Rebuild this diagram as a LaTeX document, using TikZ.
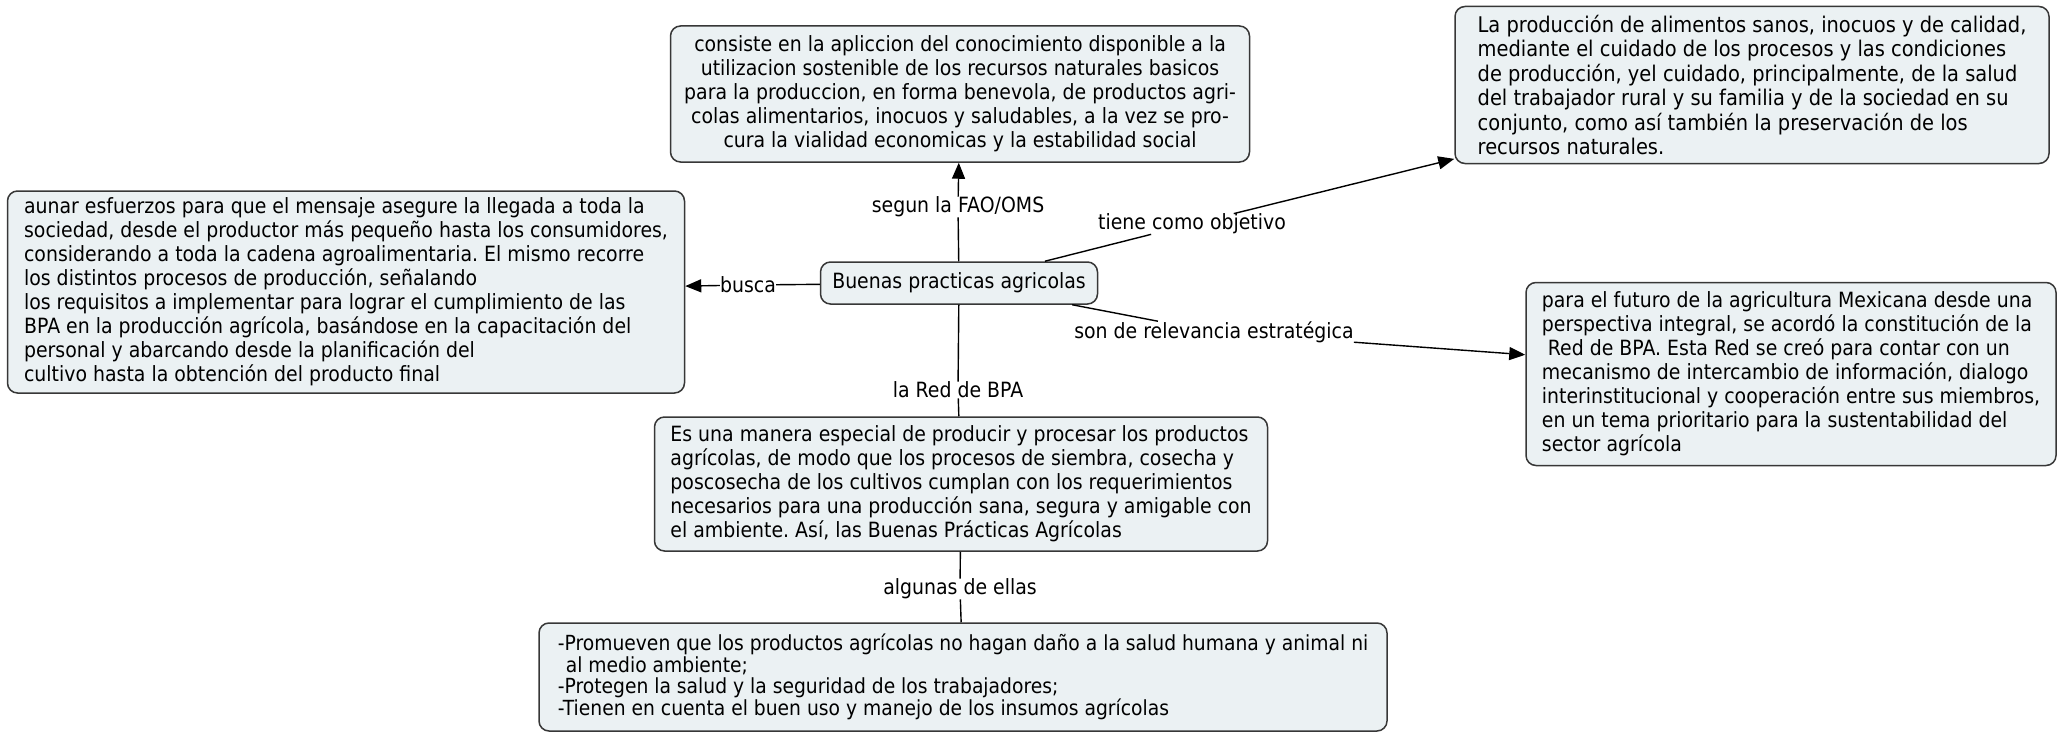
\documentclass[tikz,border=0pt]{standalone}
\usepackage{fontspec}
\setmainfont{DejaVu Sans}[FakeStretch=0.9]
\usepackage{tikz}
\usetikzlibrary{arrows.meta}
\definecolor{boxfill}{RGB}{235,241,243}
\definecolor{boxline}{RGB}{55,55,55}
\frenchspacing

\begin{document}
\begin{tikzpicture}[x=1pt, y=-1pt,
  font=\fontsize{21}{24}\selectfont,
  >={Triangle[length=16pt,width=13pt]},   % Pfeilspitzen
  konzept/.style={draw=boxline, line width=1.5pt, fill=boxfill,
    rounded corners=10pt, inner sep=0pt},
  marke/.style={inner sep=0pt},
  verb/.style={line width=1.4pt, color=black}]

\useasboundingbox (0,0) rectangle (2066,733);

% Hauptkonzept
\node[konzept, minimum width=277pt, minimum height=42pt] (bpa) at (959,283) {Buenas practicas agricolas};

% Konzepte
\node[konzept, align=center, minimum width=579pt, minimum height=136pt] (fao) at (960,94)
  {consiste en la apliccion del conocimiento disponible a la\\
   utilizacion sostenible de los recursos naturales basicos\\
   para la produccion, en forma benevola, de productos agri-\\
   colas alimentarios, inocuos y saludables, a la vez se pro-\\
   cura la vialidad economicas y la estabilidad social};

\node[konzept, align=left, minimum width=594pt, minimum height=157pt,
  font=\fontsize{21.6}{24.5}\selectfont] (objetivo) at (1752,85)
  {La producción de alimentos sanos, inocuos y de calidad,\\
   mediante el cuidado de los procesos y las condiciones\\
   de producción, yel cuidado, principalmente, de la salud\\
   del trabajador rural y su familia y de la sociedad en su\\
   conjunto, como así también la preservación de los\\
   recursos naturales.};

\node[konzept, align=left, minimum width=677pt, minimum height=202pt] (busca) at (346,292)
  {aunar esfuerzos para que el mensaje asegure la llegada a toda la\\
   sociedad, desde el productor más pequeño hasta los consumidores,\\
   considerando a toda la cadena agroalimentaria. El mismo recorre\\
   los distintos procesos de producción, señalando\\
   los requisitos a implementar para lograr el cumplimiento de las\\
   BPA en la producción agrícola, basándose en la capacitación del\\
   personal y abarcando desde la planificación del\\
   cultivo hasta la obtención del producto final};

\node[konzept, align=left, minimum width=530pt, minimum height=183pt] (relevancia) at (1791,374)
  {para el futuro de la agricultura Mexicana desde una\\
   perspectiva integral, se acordó la constitución de la\\
   \hspace*{6pt}Red de BPA. Esta Red se creó para contar con un\\
   mecanismo de intercambio de información, dialogo\\
   interinstitucional y cooperación entre sus miembros,\\
   en un tema prioritario para la sustentabilidad del\\
   sector agrícola};

\node[konzept, align=left, minimum width=613pt, minimum height=134pt] (manera) at (961,484)
  {Es una manera especial de producir y procesar los productos\\
   agrícolas, de modo que los procesos de siembra, cosecha y\\
   poscosecha de los cultivos cumplan con los requerimientos\\
   necesarios para una producción sana, segura y amigable con\\
   el ambiente. Así, las Buenas Prácticas Agrícolas};

\node[konzept, align=left, minimum width=848pt, minimum height=108pt,
  font=\fontsize{20.8}{21.5}\selectfont] (ellas) at (963,677)
  {-Promueven que los productos agrícolas no hagan daño a la salud humana y animal ni\\
   \hspace*{8pt}al medio ambiente;\\
   -Protegen la salud y la seguridad de los trabajadores;\\
   -Tienen en cuenta el buen uso y manejo de los insumos agrícolas};

% Verbindungswoerter
\node[marke] (lFAO) at (958,207) {segun la FAO/OMS};
\node[marke] (lObjetivo) at (1192,224) {tiene como objetivo};
\node[marke] (lBusca) at (748,285) {busca};
\node[marke] (lRelevancia) at (1214,332) {son de relevancia estratégica};
\node[marke] (lRed) at (958,390) {la Red de BPA};
\node[marke] (lEllas) at (960,589) {algunas de ellas};

% Linien
\draw[verb] (bpa) -- (lFAO);
\draw[verb,->] (lFAO) -- (fao);
\draw[verb] (bpa) -- (lObjetivo);
\draw[verb,->] (lObjetivo) -- (objetivo);
\draw[verb] (bpa) -- (lBusca);
\draw[verb,->] (lBusca) -- (busca);
\draw[verb] (bpa) -- (lRelevancia);
\draw[verb,->] (lRelevancia) -- (relevancia);
\draw[verb] (bpa) -- (lRed);
\draw[verb] (lRed) -- (manera);
\draw[verb] (manera) -- (lEllas);
\draw[verb] (lEllas) -- (ellas);

\end{tikzpicture}
\end{document}
